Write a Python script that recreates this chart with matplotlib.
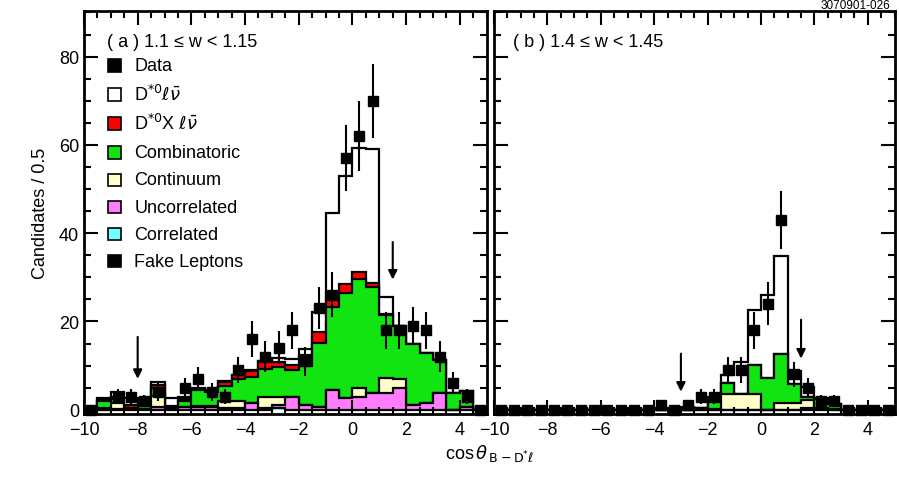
import numpy as np
import matplotlib.pyplot as plt
from matplotlib.patches import Rectangle
from matplotlib.ticker import MultipleLocator

plt.rcParams['font.family'] = ['Liberation Sans', 'DejaVu Sans']
plt.rcParams['mathtext.fontset'] = 'dejavusans'

# bins of 0.5 from -10 to 5
edges = np.arange(-10, 5.01, 0.5)
centers = edges[:-1] + 0.25
nan = np.nan

# ---- panel (a) 1.1 <= w < 1.15 ----
a_data = [0, nan, 3, 3, 2, 4, nan, 5, 7, 4, 3, 9, 16, 12, 14,
          18, 11, 23, 26, 57, 62, 70, 18, 18, 19, 18, 12, 6, 3, 0]
a_fake = [0] * 30
a_corr = [0, 0, 0, 0, 0, 0, 0, 0, 0, 0, 0, 0, 0, 0, 0.3,
          0, 0, 0, 0, 0, 0, 0, 0, 0, 0, 0, 0, 0, 0, 0]
a_uncorr = [0, 0, 0.2, 0.1, 0.1, 0.6, 0.2, 0.6, 0.7, 0.6, 0.3, 0.3, 1.6, 0.5, 0.7,
            2.9, 1.0, 0.7, 4.4, 2.6, 3.0, 3.7, 3.7, 4.9, 1.1, 1.5, 3.7, 0, 0.7, 0]
a_cont = [0, 0.5, 1.4, 0.1, 0.1, 2.6, 0.3, 0.1, 0.1, 0.3, 1.7, 1.7, 0, 2.4, 2.0,
          0, 0, 0, 0, 0, 1.9, 0, 3.4, 2.0, 0, 0, 0, 0, 0, 0]
a_comb = [0.2, 1.5, 0.9, 0.2, 1.9, 1.8, 0.1, 1.3, 3.6, 3.2, 3.3, 4.9, 5.9, 6.4, 6.6,
          6.1, 8.8, 14.5, 18.9, 23.8, 24.7, 24.2, 14.3, 12.0, 13.7, 11.3, 7.6, 3.8, 3.6, 0.2]
a_dxlnu = [0, 0.1, 0.3, 0.6, 0.1, 0.6, 0.2, 0.5, 0.4, 0.2, 1.0, 0.9, 1.3, 1.7, 1.2,
           1.1, 2.7, 2.4, 3.1, 2.0, 1.6, 0.8, 0.2, 0.1, 0, 0, 0, 0, 0, 0]
a_dlnu = [0.1, 0.5, 1.2, 1.6, 0.3, 0.6, 1.8, 0.5, 0.2, 0.2, 0.1, 0.1, 0.1, 0.1, 0.9,
          1.5, 1.3, 4.5, 18.1, 24.6, 28.0, 30.3, 3.9, 0, 0, 0, 0, 0, 0, 0]
a_arrows = [-8, 1.5]
a_arrow_tip = [7, 29.5]
a_arrow_tail = [16.5, 38]

# ---- panel (b) 1.4 <= w < 1.45 ----
b_data = [0, 0, 0, 0, 0, 0, 0, 0, 0, 0, 0, 0, 1, 0, 1,
          3, 3, 9, 9, 18, 24, 43, 8, 5, 2, 2, 0, 0, 0, 0]
b_fake = [0] * 30
b_corr = [0] * 30
b_uncorr = [0, 0, 0, 0, 0, 0, 0, 0, 0, 0, 0, 0, 0, 0, 0,
            0, 0, 0, 0, 0, 0, 0, 0, 0.3, 0.2, 0, 0, 0, 0, 0]
b_cont = [0, 0, 0, 0, 0, 0, 0, 0, 0, 0, 0, 0, 0, 0, 0,
          0.1, 0.2, 3.5, 3.6, 3.6, 0, 1.6, 1.6, 1.9, 0.2, 0.2, 0, 0, 0, 0]
b_comb = [0, 0, 0, 0, 0, 0, 0, 0, 0, 0, 0, 0, 0.2, 0.1, 0.3,
          0.3, 2.5, 2.6, 0, 6.5, 7.1, 11.0, 4.3, 0.6, 2.1, 1.0, 0, 0, 0, 0]
b_dxlnu = [0] * 30
b_dlnu = [0, 0, 0, 0, 0, 0, 0, 0, 0, 0, 0, 0, 0.2, 0.2, 0.4,
          0.1, 0.1, 1.7, 7.2, 12.4, 18.8, 22.2, 2.9, 2.4, 0.1, 0.1, 0, 0, 0, 0]
b_arrows = [-3, 1.5]
b_arrow_tip = [4.1, 11.6]
b_arrow_tail = [12.7, 20.4]

names = ['Data', r'D$^{*0}\ell\bar{\nu}$', r'D$^{*0}$X $\ell\bar{\nu}$', 'Combinatoric',
         'Continuum', 'Uncorrelated', 'Correlated', 'Fake Leptons']
colors = ['black', 'white', '#ff0000', '#11e411', '#ffffc8', '#ff7cff', '#70ffff', 'black']


def draw_panel(ax, data, fake, corr, uncorr, cont, comb, dxlnu, dlnu,
               arrows, tips, tails):
    # stacking order from bottom: fake, corr, uncorr, cont, comb, D*X l nu, D* l nu
    layers = [fake, corr, uncorr, cont, comb, dxlnu, dlnu]
    layer_colors = [colors[7], colors[6], colors[5], colors[4], colors[3], colors[2], colors[1]]
    stack = np.cumsum(np.array(layers, dtype=float), axis=0)
    for k in range(len(layers) - 1, 0, -1):
        ax.stairs(stack[k], edges, fill=True, facecolor=layer_colors[k],
                  edgecolor='black', linewidth=1.6)
    d = np.array(data, dtype=float)
    ax.errorbar(centers, d, yerr=np.sqrt(d), fmt='s', color='black', ms=7.5,
                elinewidth=1.5, capsize=0, clip_on=False, zorder=5)
    for x, t, s in zip(arrows, tips, tails):
        ax.annotate('', xy=(x, t), xytext=(x, s),
                    arrowprops=dict(arrowstyle='-|>', color='black', lw=1.5,
                                    mutation_scale=13, shrinkA=0, shrinkB=0))
    ax.set_xlim(-10, 5)
    ax.set_ylim(-1.0, 90.3)
    ax.xaxis.set_major_locator(MultipleLocator(2))
    ax.xaxis.set_minor_locator(MultipleLocator(0.5))
    ax.yaxis.set_major_locator(MultipleLocator(20))
    ax.yaxis.set_minor_locator(MultipleLocator(5))
    ax.tick_params(which='both', direction='in', top=True, right=True, width=1.5,
                   labelsize=13)
    ax.tick_params(which='major', length=10)
    ax.tick_params(which='minor', length=5)
    ax.tick_params(axis='x', pad=5)
    for sp in ax.spines.values():
        sp.set_linewidth(2)


fig = plt.figure(figsize=(8.99, 4.85), dpi=100)
ax1 = fig.add_axes([0.0934, 0.144, 0.448, 0.831])
ax2 = fig.add_axes([0.5495, 0.144, 0.4455, 0.831])

draw_panel(ax1, a_data, a_fake, a_corr, a_uncorr, a_cont, a_comb, a_dxlnu, a_dlnu,
           a_arrows, a_arrow_tip, a_arrow_tail)
draw_panel(ax2, b_data, b_fake, b_corr, b_uncorr, b_cont, b_comb, b_dxlnu, b_dlnu,
           b_arrows, b_arrow_tip, b_arrow_tail)
ax2.set_yticklabels([])

ax1.text(0.057, 0.925, '( a ) 1.1 \u2264 w < 1.15', transform=ax1.transAxes,
         fontsize=13, va='center', ha='left')
ax2.text(0.047, 0.925, '( b ) 1.4 \u2264 w < 1.45', transform=ax2.transAxes,
         fontsize=13, va='center', ha='left')

# legend in panel (a)
rows = [0.866, 0.794, 0.722, 0.650, 0.581, 0.514, 0.447, 0.380]
for name, c, yy in zip(names, colors, rows):
    ax1.add_patch(Rectangle((0.060, yy - 0.016), 0.032, 0.032, transform=ax1.transAxes,
                            facecolor=c, edgecolor='black', linewidth=1.2, zorder=6))
    ax1.text(0.125, yy, name, transform=ax1.transAxes, fontsize=13,
             va='center', ha='left', zorder=6)

fig.text(0.045, 0.56, 'Candidates / 0.5', rotation=90, fontsize=13,
         ha='center', va='center')
fig.text(0.545, 0.065, r'cos$\,\theta_{\,\mathrm{B-D^{*}}\ell}$', fontsize=13,
         ha='center', va='center')
fig.text(0.99, 0.999, '3070901-026', fontsize=8.5, ha='right', va='top')

plt.savefig('out.png', dpi=100)
